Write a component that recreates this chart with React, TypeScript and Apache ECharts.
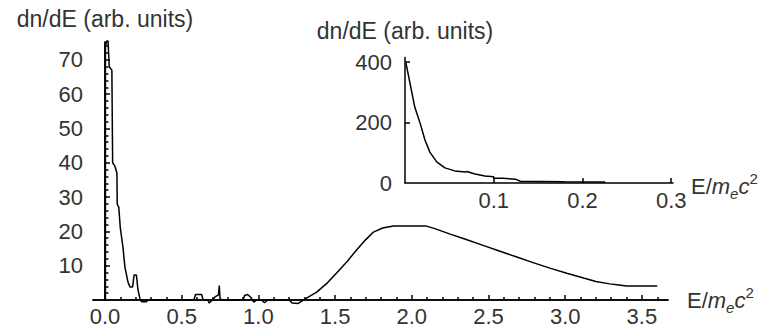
import React, { useEffect, useRef } from "react";
import * as echarts from "echarts";

// Main spectrum (E in units of m_e c^2, dn/dE in arb. units)
const mainE = [
  0.003, 0.003, 0.012, 0.02, 0.028, 0.045, 0.05, 0.065, 0.078, 0.08, 0.09, 0.1, 0.117, 0.13, 0.15, 0.163, 0.18,
  0.19, 0.205, 0.215, 0.23, 0.24, 0.27, 0.28, 0.58, 0.59, 0.63, 0.64, 0.67, 0.68, 0.7, 0.72, 0.74, 0.745, 0.75,
  0.76, 0.9, 0.91, 0.93, 0.95, 0.97, 0.99, 1.02, 1.04, 1.06, 1.2, 1.22, 1.26, 1.3, 1.38, 1.45, 1.51, 1.58, 1.64,
  1.7, 1.75, 1.81, 1.88, 2.09, 2.15, 2.25, 2.35, 2.46, 2.57, 2.68, 2.79, 2.9, 3.01, 3.12, 3.2, 3.29, 3.35, 3.4,
  3.6,
];
const mainN = [
  0, 74, 75.5, 75.5, 68, 67, 40, 39, 37, 28, 27, 21, 15.5, 9.6, 5.2, 3.8, 3.8,
  7.3, 7.3, 3, 0, -0.5, -0.5, 0, 0, 1.6, 1.6, 0, 0, -0.9, 0, 1, 1.5, 4.2, 0.5,
  0, 0, 1.3, 1.6, 0.8, -0.6, 0, 0, -0.8, 0, 0, -0.9, -1, 0.2, 2.3, 5, 7.9, 11.3, 14.6,
  17.6, 19.8, 21, 21.6, 21.6, 20.8, 19.2, 17.7, 16, 14.3, 12.6, 10.9, 9.3, 7.8, 6.4, 5.4, 4.7, 4.4, 4.1,
  4.1,
];

// Inset: low-energy part
const insetE = [
  0.001, 0.0056, 0.011, 0.017, 0.0225, 0.028, 0.036, 0.045, 0.056, 0.068, 0.07, 0.075, 0.079, 0.09, 0.1, 0.1,
  0.11, 0.125, 0.13, 0.18, 0.225, 0.225,
];
const insetN = [
  398, 330, 251, 198, 142, 102, 69, 50, 40, 36, 38, 33, 30, 23, 21, 16,
  16, 12, 6, 4, 3, 0,
];

const mainXLabels = [0, 0.5, 1, 1.5, 2, 2.5, 3, 3.5];
const mainXMinorTicks = [
  0.1, 0.2, 0.3, 0.4, 0.6, 0.7, 0.8, 0.9, 1.1, 1.2, 1.3, 1.4, 1.6, 1.7, 1.8, 1.9, 2.1, 2.2, 2.3, 2.4,
  2.6, 2.7, 2.8, 2.9, 3.1, 3.2, 3.3, 3.4, 3.6,
];
const mainYLabels = [10, 20, 30, 40, 50, 60, 70];
const mainYMinorTicks = [
  2, 4, 6, 8, 12, 14, 16, 18, 22, 24, 26, 28, 32, 34, 36, 38, 42, 44, 46, 48, 52, 54, 56, 58, 62, 64, 66, 68,
  72, 74,
];
const insetXLabels = [0.1, 0.2, 0.3];
const insetYLabels = [0, 200, 400];
const insetYTicks = [200, 400];

const yTitle = "dn/dE (arb. units)";
const xTitle = "{n|E/}{i|m}{sub|e}{i|c}{sup|2}";

const FONT = "'Liberation Sans', Arial, Helvetica, sans-serif";
const TXT = "#333";
const FS = 22;
const TFS = 23;

const line = { color: "#000", width: 1.5 };

const nameRich = {
  fontSize: FS,
  color: TXT,
  fontFamily: FONT,
  rich: {
    n: { fontSize: FS, color: TXT, fontFamily: FONT, lineHeight: 30, verticalAlign: "middle" },
    i: { fontSize: FS, color: TXT, fontFamily: FONT, fontStyle: "italic", lineHeight: 30, verticalAlign: "middle" },
    sub: { fontSize: 15, color: TXT, fontFamily: FONT, fontStyle: "italic", lineHeight: 30, verticalAlign: "bottom" },
    sup: { fontSize: 15, color: TXT, fontFamily: FONT, lineHeight: 30, verticalAlign: "top" },
  },
};

export default function App() {
  const ref = useRef<HTMLDivElement>(null);
  useEffect(() => {
    if (!ref.current) return;
    const chart = echarts.init(ref.current, null, { renderer: "svg" });
    const labelStyle = { fontSize: FS, color: TXT, fontFamily: FONT };
    chart.setOption({
      animation: false,
      backgroundColor: "#fff",
      grid: [
        { left: 93, right: 96, top: 42, bottom: 31 },
        { left: 405, right: 91, top: 57.5, bottom: 148 },
      ],
      xAxis: [
        {
          gridIndex: 0,
          type: "value",
          min: -0.078,
          max: 3.67,
          position: "bottom",
          axisLine: { onZero: true, onZeroAxisIndex: 0, lineStyle: line },
          axisTick: { inside: true, length: 3, customValues: mainXMinorTicks, lineStyle: line },
          axisLabel: {
            ...labelStyle,
            margin: 5,
            customValues: mainXLabels,
            formatter: (v: number) => v.toFixed(1),
          },
          splitLine: { show: false },
          name: xTitle,
          nameLocation: "end",
          nameGap: 19,
          nameTextStyle: nameRich,
        },
        {
          gridIndex: 0,
          type: "value",
          min: -0.078,
          max: 3.67,
          position: "bottom",
          axisLine: { onZero: true, onZeroAxisIndex: 0, lineStyle: line },
          axisTick: { inside: true, length: 5, customValues: mainXLabels, lineStyle: line },
          axisLabel: { show: false },
          splitLine: { show: false },
        },
        {
          gridIndex: 1,
          type: "value",
          min: 0,
          max: 0.302,
          axisLine: { onZero: true, lineStyle: line },
          axisTick: { inside: true, length: 5, customValues: insetXLabels, lineStyle: line },
          axisLabel: {
            ...labelStyle,
            margin: 6,
            customValues: insetXLabels,
            formatter: (v: number) => v.toFixed(1),
          },
          splitLine: { show: false },
          name: xTitle,
          nameLocation: "end",
          nameGap: 18,
          nameTextStyle: { ...nameRich, padding: [6, 0, 0, 0] },
        },
      ],
      yAxis: [
        {
          gridIndex: 0,
          type: "value",
          min: 0,
          max: 75.2,
          position: "left",
          axisLine: { onZero: true, onZeroAxisIndex: 0, lineStyle: line },
          axisTick: { inside: true, length: 5, customValues: mainYLabels, lineStyle: line },
          axisLabel: { ...labelStyle, margin: 10, customValues: mainYLabels },
          splitLine: { show: false },
          name: yTitle,
          nameLocation: "end",
          nameGap: 12,
          nameTextStyle: { fontSize: TFS, color: TXT, fontFamily: FONT },
        },
        {
          gridIndex: 0,
          type: "value",
          min: 0,
          max: 75.2,
          position: "left",
          axisLine: { onZero: true, onZeroAxisIndex: 0, lineStyle: line },
          axisTick: { inside: true, length: 3.5, customValues: mainYMinorTicks, lineStyle: line },
          axisLabel: { show: false },
          splitLine: { show: false },
        },
        {
          gridIndex: 1,
          type: "value",
          min: 0,
          max: 415,
          axisLine: { onZero: true, lineStyle: line },
          axisTick: { inside: true, length: 5, customValues: insetYTicks, lineStyle: line },
          axisLabel: { ...labelStyle, margin: 13, customValues: insetYLabels },
          splitLine: { show: false },
          name: yTitle,
          nameLocation: "end",
          nameGap: 15,
          nameTextStyle: { fontSize: TFS, color: TXT, fontFamily: FONT },
        },
      ],
      series: [
        {
          type: "line",
          xAxisIndex: 0,
          yAxisIndex: 0,
          data: mainE.map((e, i) => [e, mainN[i]]),
          showSymbol: false,
          clip: false,
          lineStyle: { color: "#000", width: 1.5 },
        },
        {
          type: "line",
          xAxisIndex: 2,
          yAxisIndex: 2,
          data: insetE.map((e, i) => [e, insetN[i]]),
          showSymbol: false,
          clip: false,
          lineStyle: { color: "#000", width: 1.5 },
        },
      ],
    });
    return () => chart.dispose();
  }, []);
  return (
    <div
      ref={ref}
      style={{ position: "fixed", left: 0, top: 0, width: 764, height: 331 }}
    />
  );
}
